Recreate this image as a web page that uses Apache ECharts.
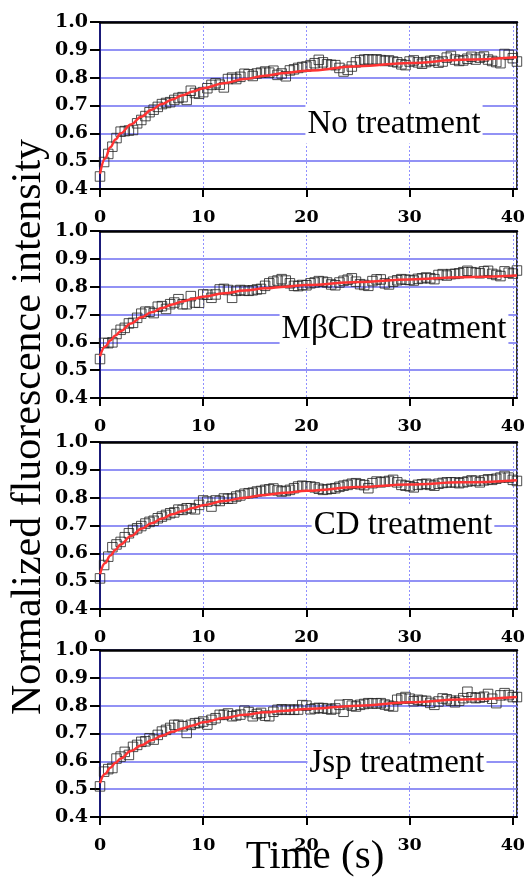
<!DOCTYPE html>
<html><head><meta charset="utf-8">
<script src="https://cdn.jsdelivr.net/npm/echarts@6/dist/echarts.min.js"></script>
<style>html,body{margin:0;padding:0;background:#fff}#c{width:528px;height:891px}</style>
</head><body><div id="c"></div><script>
// ---- data ----
const time = [0,0.4,0.8,1.2,1.6,2,2.4,2.8,3.2,3.6,4,4.4,4.8,5.2,5.6,6,6.4,6.8,7.2,7.6,8,8.4,8.8,9.2,9.6,10,10.4,10.8,11.2,11.6,12,12.4,12.8,13.2,13.6,14,14.4,14.8,15.2,15.6,16,16.4,16.8,17.2,17.6,18,18.4,18.8,19.2,19.6,20,20.4,20.8,21.2,21.6,22,22.4,22.8,23.2,23.6,24,24.4,24.8,25.2,25.6,26,26.4,26.8,27.2,27.6,28,28.4,28.8,29.2,29.6,30,30.4,30.8,31.2,31.6,32,32.4,32.8,33.2,33.6,34,34.4,34.8,35.2,35.6,36,36.4,36.8,37.2,37.6,38,38.4,38.8,39.2,39.6,40,40.4];

const noTreatment = [0.445,0.497,0.526,0.552,0.583,0.606,0.608,0.610,0.612,0.636,0.648,0.662,0.676,0.685,0.695,0.705,0.709,0.712,0.720,0.727,0.730,0.720,0.753,0.745,0.742,0.748,0.762,0.774,0.780,
0.775,0.765,0.795,0.800,0.795,0.803,0.814,0.812,0.806,0.815,0.818,
0.822,0.818,0.825,0.810,0.815,0.805,0.826,0.830,0.835,0.838,0.840,0.845,0.852,0.864,0.855,0.848,0.846,0.845,0.835,0.822,0.828,0.840,0.855,0.862,0.865,0.866,0.864,0.866,0.863,0.860,0.862,0.858,0.855,0.848,0.845,0.858,0.862,0.855,0.850,0.856,0.860,0.862,0.854,0.858,0.872,0.878,0.865,0.860,0.862,0.868,0.875,0.865,0.872,0.876,0.865,0.860,0.856,0.852,0.885,0.882,0.870,0.858];

const mbcdTreatment = [0.540,0.598,0.597,0.600,0.630,0.645,0.652,0.668,0.670,0.688,0.703,0.710,0.710,0.705,0.728,0.730,0.720,0.737,0.743,0.755,0.737,0.737,0.766,0.743,0.742,0.772,0.771,0.760,0.772,0.790,0.792,0.788,0.760,0.785,0.788,0.786,0.785,0.787,0.790,0.792,
0.803,0.812,0.818,0.822,0.827,0.822,0.812,0.803,0.802,0.806,0.805,0.812,0.815,0.820,0.818,0.815,0.808,0.805,0.815,0.821,0.825,0.830,0.818,0.809,0.806,0.803,0.820,0.826,0.826,0.812,0.808,0.818,0.823,0.827,0.825,0.824,0.822,0.828,0.830,0.833,0.830,0.827,0.842,0.845,0.840,0.845,0.846,0.848,0.852,0.857,0.852,0.850,0.848,0.855,0.857,0.846,0.842,0.838,0.855,0.850,0.847,0.858];

const cdTreatment = [0.510,0.558,0.588,0.622,0.632,0.641,0.658,0.672,0.684,0.690,0.698,0.707,0.713,0.717,0.726,0.732,0.738,0.744,0.747,0.757,0.756,0.762,0.762,0.758,0.774,0.790,0.786,0.768,0.790,0.788,0.797,0.796,0.797,0.804,0.808,0.814,0.816,0.818,0.822,0.824,
0.828,0.830,0.833,0.826,0.822,0.824,0.828,0.834,0.840,0.843,0.841,0.840,0.837,0.832,0.828,0.830,0.832,0.834,0.839,0.843,0.846,0.850,0.852,0.848,0.845,0.834,0.852,0.858,0.855,0.857,0.860,0.864,0.855,0.846,0.843,0.841,0.837,0.846,0.848,0.850,0.846,0.843,0.850,0.853,0.855,0.855,0.855,0.852,0.855,0.858,0.862,0.860,0.855,0.862,0.866,0.864,0.868,0.872,0.878,0.872,0.864,0.860];

const jspTreatment = [0.510,0.563,0.572,0.576,0.610,0.617,0.634,0.623,0.652,0.659,0.670,0.672,0.683,0.678,0.695,0.707,0.713,0.720,0.731,0.731,0.726,0.702,0.731,0.737,0.738,0.743,0.732,0.749,0.755,0.767,0.767,0.772,0.762,0.765,0.768,0.782,0.777,0.762,0.770,0.774,
0.764,0.762,0.778,0.785,0.787,0.785,0.786,0.785,0.786,0.802,0.800,0.787,0.790,0.792,0.791,0.789,0.786,0.790,0.803,0.778,0.805,0.800,0.797,0.803,0.806,0.809,0.808,0.808,0.809,0.804,0.800,0.797,0.821,0.826,0.831,0.825,0.816,0.821,0.818,0.817,0.810,0.803,0.815,0.826,0.823,0.818,0.812,0.818,0.827,0.850,0.830,0.827,0.829,0.832,0.842,0.825,0.809,0.837,0.845,0.838,0.831,0.831];

const fitTime = [0,0.5,1,1.5,2,3,4,5,6,7,8,9,10,12,14,16,18,20,25,30,35,40.4];
const fitNo   = [0.455,0.510,0.550,0.578,0.600,0.632,0.660,0.685,0.705,0.722,0.737,0.750,0.762,0.780,0.795,0.807,0.817,0.825,0.841,0.853,0.864,0.873];
const fitMbcd = [0.550,0.585,0.607,0.625,0.640,0.668,0.690,0.708,0.723,0.736,0.747,0.756,0.764,0.776,0.786,0.794,0.800,0.806,0.817,0.826,0.834,0.840];
const fitCd   = [0.525,0.565,0.592,0.613,0.632,0.662,0.688,0.708,0.725,0.740,0.752,0.763,0.773,0.788,0.800,0.810,0.818,0.825,0.838,0.847,0.855,0.863];
const fitJsp  = [0.522,0.555,0.577,0.595,0.610,0.637,0.658,0.676,0.692,0.706,0.718,0.729,0.740,0.756,0.767,0.776,0.782,0.788,0.800,0.812,0.822,0.831];

const panelLabels = ['No treatment','MβCD treatment','CD treatment','Jsp treatment'];
const yAxisTitle = 'Normalized fluorescence intensity';
const xAxisTitle = 'Time (s)';

// ---- layout ----
const panels = [
  {vals: noTreatment, fit: fitNo},
  {vals: mbcdTreatment, fit: fitMbcd},
  {vals: cdTreatment, fit: fitCd},
  {vals: jspTreatment, fit: fitJsp}
];
const tops = [22, 231, 442, 650];
const labelPos = [[394,124],[394,329],[403,525],[397,763]];
const serif = '"Liberation Serif","Times New Roman",serif';
const tickFont = '"DejaVu Serif",serif';

const grid = [], xAxis = [], yAxis = [], series = [], graphic = [];
panels.forEach((p, i) => {
  grid.push({left: 100, top: tops[i], width: 422, height: 167, show: true,
    borderColor: '#000', borderWidth: 1.5, backgroundColor: 'transparent'});
  yAxis.push({type: 'value', gridIndex: i, min: 0.4, max: 1.0, interval: 0.1,
    axisLine: {show: true, lineStyle: {color: '#1a1a78', width: 2}},
    axisTick: {show: true, length: 10, lineStyle: {color: '#000', width: 2}},
    axisLabel: {margin: 12, color: '#000', fontFamily: tickFont, fontWeight: 'bold', fontSize: 19,
      formatter: v => v.toFixed(1)},
    splitLine: {show: true, lineStyle: {color: '#6e6ef2', width: 1.5}}
  });
});
panels.forEach((p, i) => {
  xAxis.push({type: 'value', gridIndex: i, min: 0, max: 40.4, interval: 10, position: 'bottom',
    axisLine: {show: true, onZero: false, lineStyle: {color: '#000', width: 2}},
    axisTick: {show: true, length: 8, lineStyle: {color: '#000', width: 2}},
    axisLabel: {margin: 19, color: '#000', fontFamily: tickFont, fontWeight: 'bold', fontSize: 17.5,
      showMaxLabel: false},
    splitLine: {show: true, lineStyle: {color: '#9090ff', width: 1, type: [2, 2]}}
  });
});
panels.forEach((p, i) => {
  xAxis.push({type: 'value', gridIndex: i, min: 0, max: 40.4, interval: 10, position: 'top',
    axisLine: {show: true, onZero: false, lineStyle: {color: '#000', width: 2.5}},
    axisTick: {show: false}, axisLabel: {show: false}, splitLine: {show: false}
  });
});
panels.forEach((p, i) => {
  series.push({type: 'scatter', xAxisIndex: i, yAxisIndex: i, z: 3,
    symbol: 'rect', symbolSize: 9.5, clip: false,
    itemStyle: {color: 'rgba(0,0,0,0)', borderColor: '#222', borderWidth: 1},
    data: time.map((t, j) => [t, p.vals[j]])
  });
  series.push({type: 'line', xAxisIndex: i, yAxisIndex: i, z: 4,
    showSymbol: false, smooth: 0.4, smoothMonotone: 'x',
    lineStyle: {color: '#ff3333', width: 2.5},
    data: fitTime.map((t, j) => [t, p.fit[j]])
  });
  graphic.push({type: 'text', x: labelPos[i][0], y: labelPos[i][1], z: 1,
    style: {text: panelLabels[i], font: '33px ' + serif, fill: '#000',
      align: 'center', verticalAlign: 'middle',
      backgroundColor: '#fff', padding: [3, 2, 3, 2]}});
});
graphic.push({type: 'text', x: 29, y: 427, rotation: Math.PI / 2, z: 5,
  style: {text: yAxisTitle, font: '42px ' + serif, fill: '#000', align: 'center', verticalAlign: 'middle'}});
graphic.push({type: 'text', x: 315, y: 857, z: 5,
  style: {text: xAxisTitle, font: '41px ' + serif, fill: '#000', align: 'center', verticalAlign: 'middle'}});

const chart = echarts.init(document.getElementById('c'), null, {renderer: 'canvas'});
chart.setOption({animation: false, backgroundColor: '#fff', grid, xAxis, yAxis, series, graphic});
</script></body></html>
